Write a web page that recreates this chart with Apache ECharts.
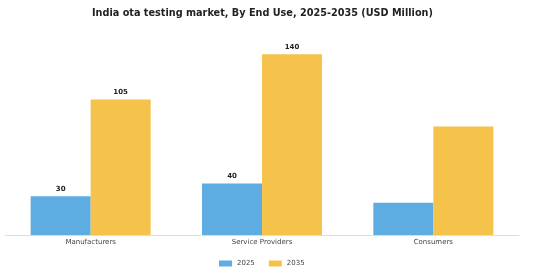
<!DOCTYPE html>
<html><head><meta charset="utf-8">
<script src="https://cdn.jsdelivr.net/npm/echarts@6/dist/echarts.min.js"></script>
<style>html,body{margin:0;padding:0;background:#fff}#c{width:560px;height:280px}</style>
</head><body><div id="c"></div>
<script>
var categories = ["Manufacturers", "Service Providers", "Consumers"];
var values2025 = [30, 40, 25];
var values2035 = [105, 140, 84];
var labels2025 = ["30", "40", ""];
var labels2035 = ["105", "140", ""];
var chart = echarts.init(document.getElementById('c'));
var font = '"DejaVu Sans", sans-serif';
function mk(name, vals, labs, color) {
  return {
    name: name, type: 'bar', data: vals, barWidth: 60, barGap: '0%',
    itemStyle: { color: color },
    label: { show: true, position: 'top', distance: 4, fontFamily: font, fontSize: 7, fontWeight: 'bold', color: '#222',
      formatter: function (p) { return labs[p.dataIndex]; } }
  };
}
chart.setOption({
  animation: false,
  title: { text: 'India ota testing market, By End Use, 2025-2035 (USD Million)', left: 87, top: 3,
    textStyle: { fontFamily: font, fontSize: 9.7, fontWeight: 'bold', color: '#222' } },
  legend: { left: 214, bottom: 8, itemWidth: 13, itemHeight: 6, itemGap: 14, icon: 'rect',
    textStyle: { fontFamily: font, fontSize: 7, color: '#444' } },
  grid: { left: 5, right: 41, top: 28.5, bottom: 45, containLabel: false },
  xAxis: { type: 'category', data: categories,
    axisLine: { lineStyle: { color: '#ddd' } }, axisTick: { show: false },
    axisLabel: { fontFamily: font, fontSize: 7, color: '#444', margin: 4 } },
  yAxis: { type: 'value', min: 0, max: 160, show: false, splitLine: { show: false } },
  series: [mk('2025', values2025, labels2025, '#5DADE2'), mk('2035', values2035, labels2035, '#F5C24C')]
});
</script></body></html>
